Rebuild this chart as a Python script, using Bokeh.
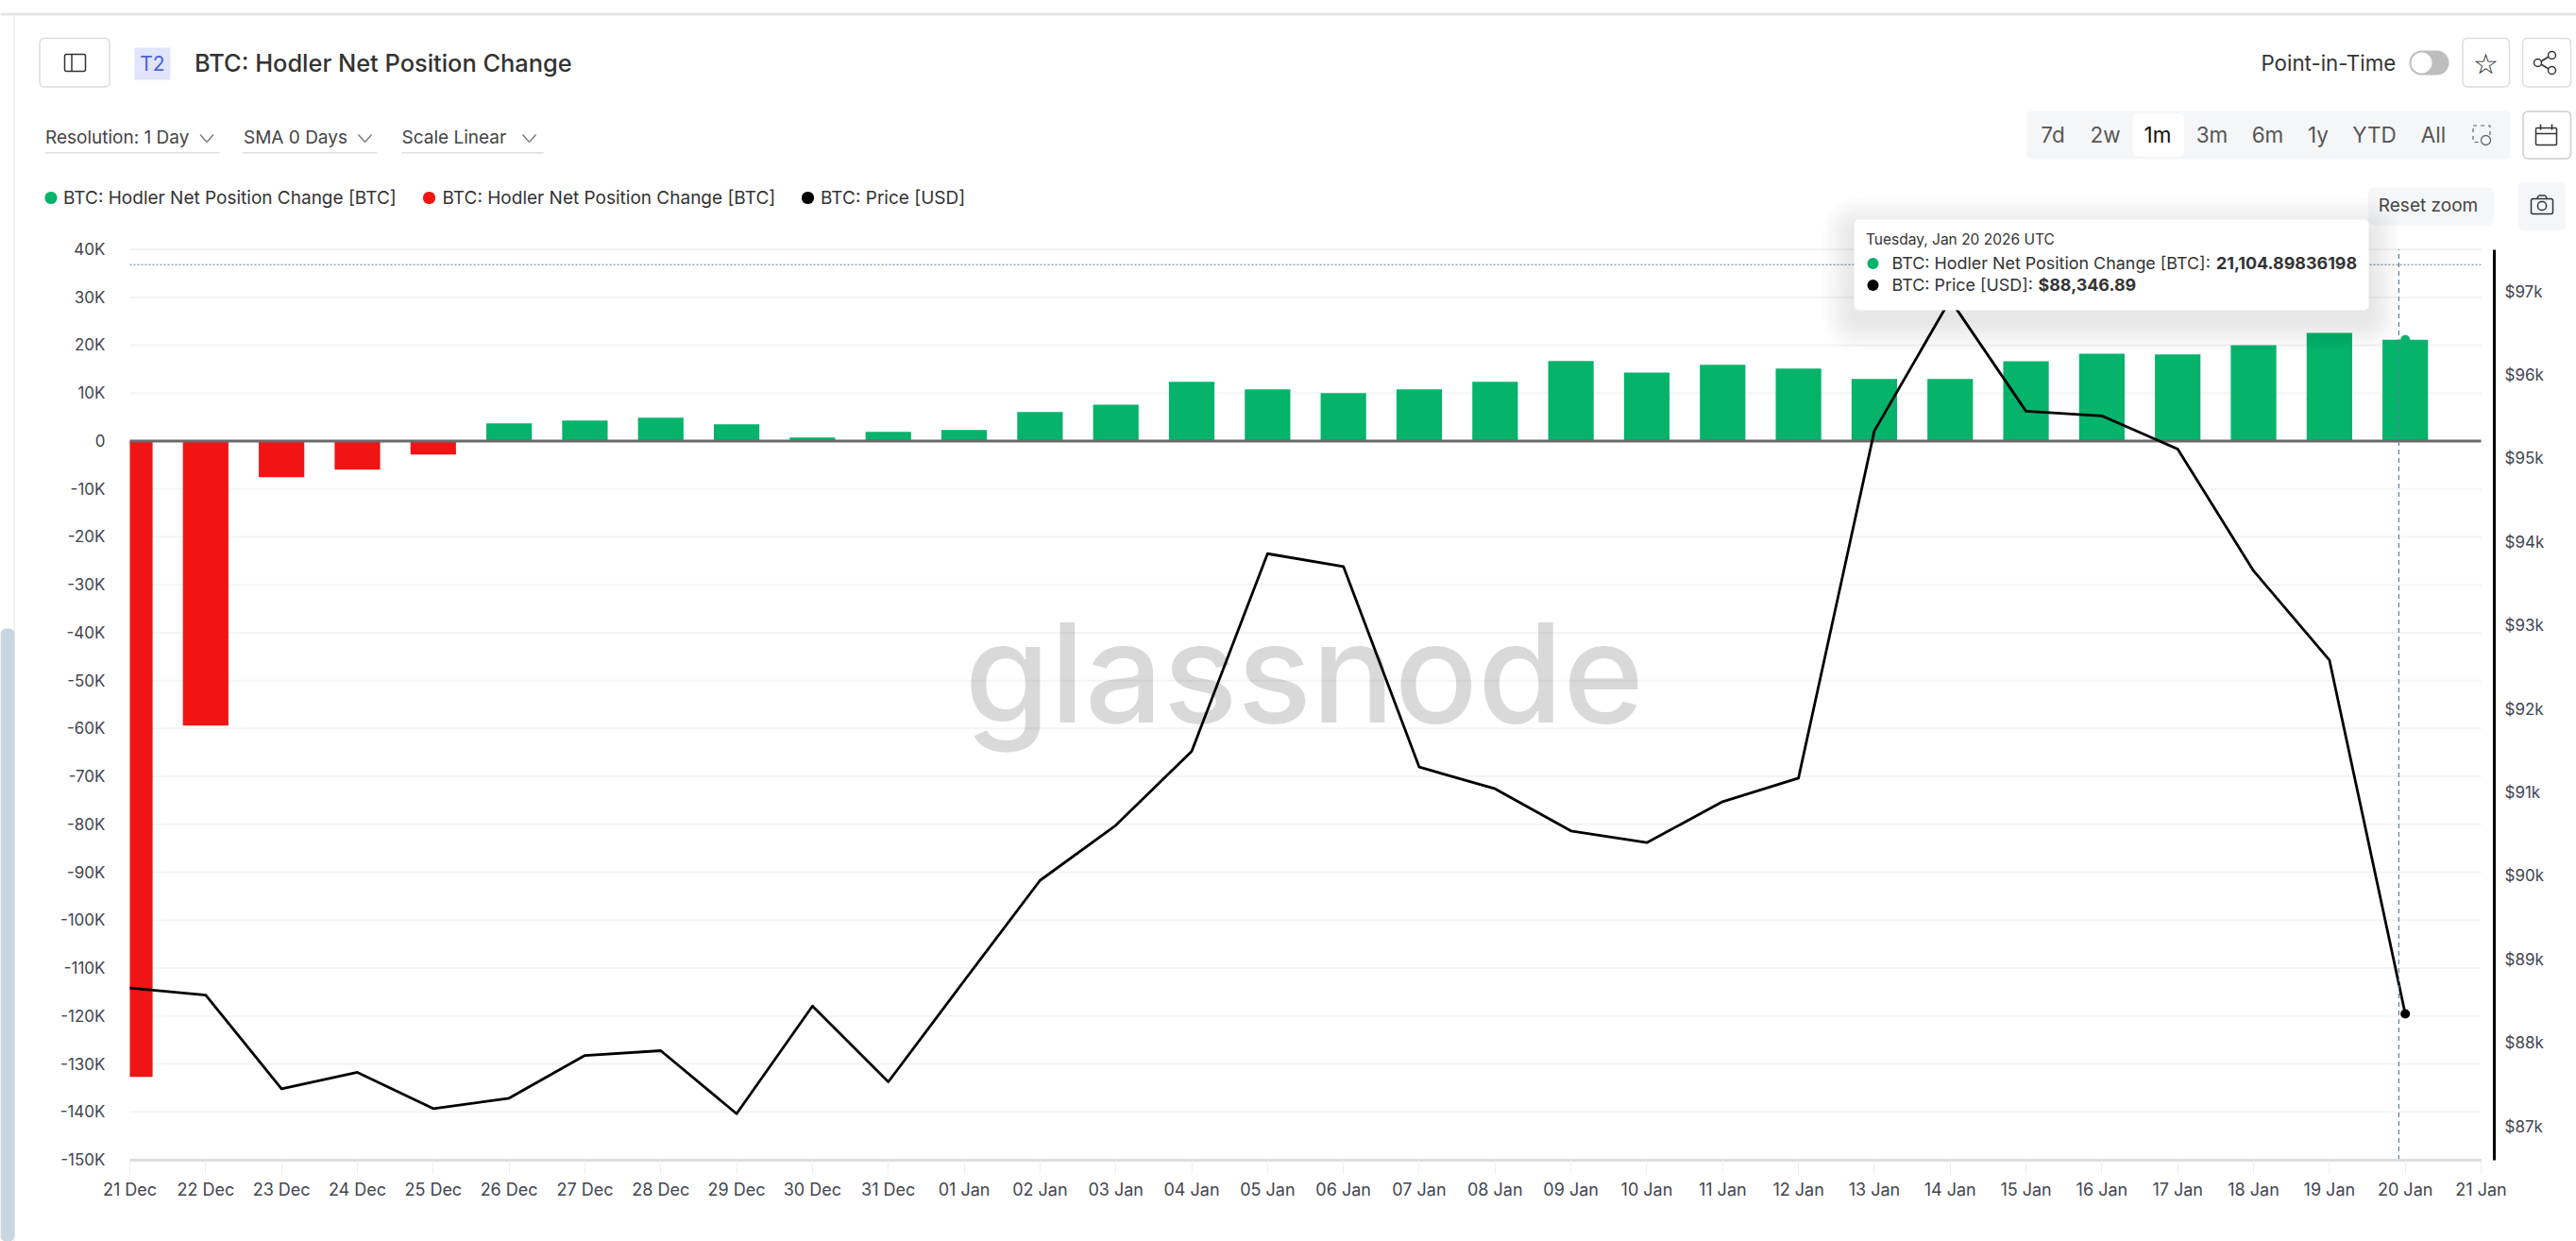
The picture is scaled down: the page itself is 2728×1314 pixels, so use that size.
from bokeh.embed import file_html
from bokeh.models import Arrow, BoxAnnotation, Label, LinearAxis, Range1d, FixedTicker
from bokeh.plotting import figure
from bokeh.resources import INLINE

# ---------- chart data ----------
dates = ["21 Dec", "22 Dec", "23 Dec", "24 Dec", "25 Dec", "26 Dec", "27 Dec", "28 Dec", "29 Dec", "30 Dec", "31 Dec",
         "01 Jan", "02 Jan", "03 Jan", "04 Jan", "05 Jan", "06 Jan", "07 Jan", "08 Jan", "09 Jan", "10 Jan", "11 Jan",
         "12 Jan", "13 Jan", "14 Jan", "15 Jan", "16 Jan", "17 Jan", "18 Jan", "19 Jan", "20 Jan", "21 Jan"]
net_change = [-132700, -59400, -7550, -5970, -2820, 3680, 4270, 4860, 3480, 720, 1900,
              2300, 6050, 7600, 12350, 10800, 10000, 10800, 12350, 16700, 14300, 15900,
              15140, 12940, 12940, 16650, 18240, 18090, 20000, 22550, 21104.9]
price = [88655, 88572, 87449, 87645, 87211, 87336, 87848, 87905, 87150, 88440, 87532,
         88742, 89944, 90605, 91491, 93858, 93704, 91302, 91042, 90537, 90397, 90888,
         91170, 95327, 96900, 95565, 95509, 95111, 93652, 92585, 88346.89]
left_ticks = [40000, 30000, 20000, 10000, 0, -10000, -20000, -30000, -40000, -50000, -60000, -70000, -80000,
              -90000, -100000, -110000, -120000, -130000, -140000, -150000]
left_labels = ["40K", "30K", "20K", "10K", "0", "-10K", "-20K", "-30K", "-40K", "-50K", "-60K", "-70K", "-80K",
               "-90K", "-100K", "-110K", "-120K", "-130K", "-140K", "-150K"]
right_ticks = [97000, 96000, 95000, 94000, 93000, 92000, 91000, 90000, 89000, 88000, 87000]
right_labels = ["$97k", "$96k", "$95k", "$94k", "$93k", "$92k", "$91k", "$90k", "$89k", "$88k", "$87k"]
cross_x, cross_y = 29.915, 36800

FONT = "Inter"
MEDIUM = "Inter Medium, Inter"
GREEN, RED = "#05B36B", "#F01414"
AXIS_TEXT = "#43454f"

# page geometry (picture pixels)
OFF = 0
W, H = 2728, 1314
F_L, F_R, F_T, F_B = 137, 2627, 263.5, 1227.5
RIGHT_LINE = 2641
PX_DAY = (F_R - F_L) / 31
PX_K = (F_B - F_T) / 190000
PX_USD = 0.0884
P97 = 308

def x_at(px): return (px - F_L) / PX_DAY
def y_at(py): return 40000 - (py - F_T) / PX_K
def usd_at(py): return 97000 - (py - P97) / PX_USD

days = list(range(len(net_change)))
pos_x = [d for d, v in zip(days, net_change) if v >= 0]
pos_v = [v for v in net_change if v >= 0]
neg_x = [d for d, v in zip(days, net_change) if v < 0]
neg_v = [v for v in net_change if v < 0]
BAR = 0.6

p = figure(width=W - 2 * OFF, height=H - 2 * OFF, output_backend="svg", toolbar_location=None,
           x_range=Range1d(x_at(OFF), x_at(W - OFF)), y_range=Range1d(y_at(H - OFF), y_at(OFF)),
           min_border=0, x_axis_type=None, y_axis_type=None)
p.outline_line_color = None
p.background_fill_color = "white"
p.border_fill_color = "white"
p.extra_y_ranges = {"price": Range1d(usd_at(H - OFF), usd_at(OFF))}

# axes
grid_src = dict(x0=[0] * len(left_ticks), x1=[31] * len(left_ticks), y=left_ticks)
p.segment("x0", "y", "x1", "y", source=grid_src, line_color="#f4f4f5", line_width=2, level="underlay")

xa = LinearAxis(fixed_location=-150000, bounds=(0, 31), ticker=FixedTicker(ticks=list(range(len(dates)))),
                major_label_overrides=dict(enumerate(dates)), axis_line_color="#dcdcdc", axis_line_width=3,
                major_tick_line_color="#eeeeee", major_tick_line_width=1, major_tick_in=0, major_tick_out=15,
                minor_tick_line_color=None, major_label_standoff=6, major_label_text_font=FONT,
                major_label_text_font_size="18px", major_label_text_color=AXIS_TEXT)
p.add_layout(xa, "below")
ya = LinearAxis(fixed_location=0, bounds=(-150000, 40000), ticker=FixedTicker(ticks=left_ticks),
                major_label_overrides=dict(zip(left_ticks, left_labels)), axis_line_color=None,
                major_tick_line_color=None, minor_tick_line_color=None, major_tick_in=0, major_tick_out=0,
                major_label_standoff=26, major_label_text_font=FONT, major_label_text_font_size="17px",
                major_label_text_color=AXIS_TEXT)
p.add_layout(ya, "left")
ra = LinearAxis(y_range_name="price", fixed_location=x_at(RIGHT_LINE), bounds=(usd_at(F_B), usd_at(F_T)),
                ticker=FixedTicker(ticks=right_ticks), major_label_overrides=dict(zip(right_ticks, right_labels)),
                axis_line_color="#000000", axis_line_width=3, major_tick_line_color=None, minor_tick_line_color=None,
                major_tick_in=0, major_tick_out=0, major_label_standoff=11, major_label_text_font=FONT,
                major_label_text_font_size="17px", major_label_text_color=AXIS_TEXT)
p.add_layout(ra, "right")

# helpers for page chrome, in picture pixels
def cx(v): return v - OFF
def cy(v): return v - OFF

def box(x0, y0, x1, y1, fill=None, line=None, lw=1, radius=0, alpha=1.0, dash="solid"):
    b = BoxAnnotation(left=cx(x0), right=cx(x1), top=cy(y0), bottom=cy(y1),
                      left_units="canvas", right_units="canvas", top_units="canvas", bottom_units="canvas",
                      fill_color=fill, fill_alpha=alpha if fill else 0, line_color=line, line_width=lw,
                      line_alpha=1 if line else 0, line_dash=dash, border_radius=int(round(radius)), editable=False)
    p.add_layout(b)

def text(x, y, s, size, color="#333333", align="left", base="middle", font=FONT, style="normal", level="annotation", alpha=1.0):
    p.add_layout(Label(x=cx(x), y=cy(y), x_units="canvas", y_units="canvas", text=s,
                       text_font=font, text_font_size=f"{size}px", text_color=color, text_align=align,
                       text_baseline=base, text_font_style=style, level=level, text_alpha=alpha))

def seg(x0, y0, x1, y1, color="#555555", w=1.5):
    p.add_layout(Arrow(end=None, x_start=cx(x0), y_start=cy(y0), x_end=cx(x1), y_end=cy(y1),
                       start_units="canvas", end_units="canvas", line_color=color, line_width=w))

# watermark under marks
p.add_layout(Label(x=cx(1021), y=cy(799), x_units="canvas", y_units="canvas", text="glassnode", text_font=MEDIUM,
                   text_font_size="146px", text_color="#000000", text_alpha=0.15, level="underlay"))

# marks
p.scatter([days[-1]], [net_change[-1]], size=10, color=GREEN, line_color=None)
p.quad(left=[d - BAR / 2 for d in pos_x], right=[d + BAR / 2 for d in pos_x], top=pos_v, bottom=0,
       color=GREEN, line_color=None)
p.quad(left=[max(d - BAR / 2, 0) for d in neg_x], right=[d + BAR / 2 for d in neg_x], top=0, bottom=neg_v,
       color=RED, line_color=None)
p.line([0, 31], [0, 0], line_color="#6a6a6a", line_width=3)
p.line(days, price, y_range_name="price", line_color="black", line_width=2.8, line_join="round")
p.scatter([days[-1]], [price[-1]], y_range_name="price", size=10, color="black", line_color=None)
p.line([0, 31], [cross_y, cross_y], line_color="#5d7f97", line_width=1.2, line_dash=[2, 2])
p.line([cross_x, cross_x], [-150000, 40000], line_color="#5d7f97", line_width=1.2, line_dash=[5, 4])

# page frame
box(0, 13, W, 16, fill="#e6e6e6")
box(14, 16, 15, H, fill="#e3e3e3")
box(0, 665, 15, H, fill="#c9d5df", radius=6)

# header left
box(41.5, 40, 115.5, 91.5, fill="white", line="#dddddd", lw=1.5, radius=5)
box(68, 57, 90, 75, line="#333333", lw=1.5, radius=2)
seg(75.5, 57, 75.5, 75, "#333333", 1.5)
box(142, 50, 180, 84, fill="#e0e5fb")
text(161, 67, "T2", 21, "#4a5fe0", "center")
text(205.5, 66, "BTC: Hodler Net Position Change", 25.4, "#333333", font=MEDIUM)

# controls
text(47.5, 145, "Resolution: 1 Day", 19, "#444444")
text(257.5, 145, "SMA 0 Days", 19, "#444444")
text(425, 145, "Scale Linear", 19, "#444444")
for x0, x1, ch in [(47.5, 232, 211.5), (257, 399, 379), (425, 575, 553)]:
    box(x0, 160.5, x1, 162, fill="#dddddd")
    seg(ch, 142, ch + 7, 150, "#777777", 1.3)
    seg(ch + 7, 150, ch + 14, 142, "#777777", 1.3)

# legend
for dot, tx, col, s in [(53.5, 66.5, GREEN, "BTC: Hodler Net Position Change [BTC]"),
                        (454, 468, RED, "BTC: Hodler Net Position Change [BTC]"),
                        (855, 868.5, "#000000", "BTC: Price [USD]")]:
    box(dot - 6.5, 202.5, dot + 6.5, 215.5, fill=col, radius=6.5)
    text(tx, 209, s, 19, "#333333")

# header right
text(2394, 66, "Point-in-Time", 22.3, "#333333")
box(2551, 53, 2593, 79, fill="#bdbdbd", radius=13)
box(2553, 55, 2575, 77, fill="white", radius=11)
box(2607.5, 40, 2657, 91.5, fill="white", line="#dddddd", lw=1.5, radius=5)
text(2632, 67, "\u2606", 30, "#222222", "center", font="DejaVu Sans")
box(2671, 40, 2722, 91.5, fill="white", line="#dddddd", lw=1.5, radius=5)
seg(2701, 58, 2688, 66, "#333333", 1.5)
seg(2688, 66, 2701, 74, "#333333", 1.5)
for sx, sy in [(2702, 58), (2687, 66), (2702, 74)]:
    box(sx - 4, sy - 4, sx + 4, sy + 4, fill="white", line="#333333", lw=1.5, radius=4)

# range selector
box(2146, 117, 2658, 168, fill="#f5f6f8", radius=5)
box(2258, 120, 2312.5, 165, fill="white", radius=5)
for x, s in [(2173.5, "7d"), (2229, "2w"), (2284.5, "1m"), (2342, "3m"), (2401, "6m"), (2454.5, "1y"),
             (2514, "YTD"), (2576.5, "All")]:
    text(x, 141.5, s, 22.5, "#111111" if s == "1m" else "#555555", "center")
box(2618.5, 132.5, 2636.5, 150, line="#666666", lw=1.2, dash=[4, 4])
box(2627, 143, 2637, 153, fill="#f5f6f8", line="#666666", lw=1.3, radius=5)
box(2671.5, 117.5, 2722, 167.5, fill="white", line="#cccccc", lw=1.5, radius=5)
box(2685, 135, 2707, 153, line="#333333", lw=1.5, radius=1)
seg(2685, 141, 2707, 141, "#333333", 1.5)
seg(2690, 131, 2690, 137, "#333333", 1.5)
seg(2702, 131, 2702, 137, "#333333", 1.5)

# reset zoom + camera
box(2507.5, 198, 2640.5, 238, fill="#f5f6f8", radius=6)
text(2571, 217, "Reset zoom", 19, "#444444", "center")
box(2666, 192, 2716.5, 244, fill="#f5f6f8", radius=6)
box(2680, 210, 2703, 226, line="#333333", lw=1.5, radius=2)
box(2687, 213, 2696, 222, line="#333333", lw=1.5, radius=4)
seg(2686, 210, 2688, 206.5, "#333333", 1.5)
seg(2688, 206.5, 2695, 206.5, "#333333", 1.5)
seg(2695, 206.5, 2697, 210, "#333333", 1.5)

# tooltip
for i in range(12):
    g = 34 - 2.8 * i
    box(1963 - g, 232 - g + 10, 2508 + g, 328 + g + 10, fill="#000000", alpha=0.006, radius=g + 4)
box(1963, 232, 2508, 328, fill="white", radius=5)
text(1975.5, 253, "Tuesday, Jan 20 2026 UTC", 15.5, "#333333")
box(1977, 272.5, 1989, 284.5, fill=GREEN, radius=6)
text(2003, 278, "BTC: Hodler Net Position Change [BTC]:", 17.9, "#333333")
text(2346.5, 278, "21,104.89836198", 17.9, "#333333", style="bold")
box(1977, 295.5, 1989, 307.5, fill="#000000", radius=6)
text(2003, 301, "BTC: Price [USD]:", 17.9, "#333333")
text(2158, 301, "$88,346.89", 17.9, "#333333", style="bold")

open("out.html", "w").write(file_html(p, INLINE))
